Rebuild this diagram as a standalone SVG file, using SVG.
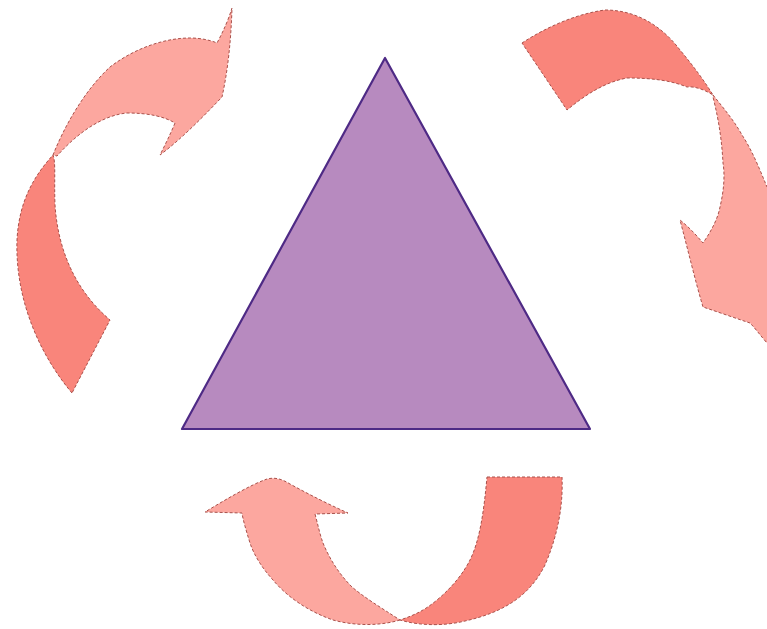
<svg xmlns="http://www.w3.org/2000/svg" width="767" height="629" viewBox="0 0 767 629">
<style>
.dark{fill:#f9857b;stroke:#a9504a;stroke-width:1;stroke-dasharray:3 2}
.light{fill:#fca79f;stroke:#a9504a;stroke-width:1;stroke-dasharray:3 2}
.tri{fill:#b78abf;stroke:#4e2a85;stroke-width:2.2;stroke-linejoin:round}
</style>
<rect width="767" height="629" fill="#ffffff"/>
<g id="triangle">
<polygon class="tri" points="385,58 182,429 590,429"/>
</g>
<g id="connectors">
<g id="arrow-left">
<path class="dark" d="M72,393 C40,355 15,300 17,240 C19,200 35,175 53,155 C56,162 54,180 55,205 C58,250 75,290 110,320 Z"/>
<path class="light" d="M53,155 C65,125 85,90 110,67 C135,48 165,38 190,38 C200,38 210,40 217,43 C224,30 229,18 232,8 C231,40 228,70 222,97 C200,120 180,140 160,155 C165,145 170,135 175,123 C165,117 150,113 127,113 C105,115 80,130 57,156 Z"/>
</g>
<g id="arrow-right">
<path class="dark" d="M522,43 C545,28 575,14 605,10 C640,10 665,30 680,50 C695,68 705,82 713,95 C705,90 695,86 687,87 C670,80 650,78 627,78 C605,82 585,95 567,110 Z"/>
<path class="light" d="M713,95 C725,110 735,122 742,135 C752,150 760,170 767,187 L780,200 L780,345 L767,343 C760,335 755,328 750,323 C735,318 718,312 703,307 C695,280 688,250 680,220 C690,228 697,236 703,243 C712,230 718,218 720,207 C724,190 725,175 723,163 C722,145 720,125 713,97 Z"/>
</g>
<g id="arrow-bottom">
<path class="dark" d="M487,477 L562,477 C563,500 560,530 545,565 C530,595 505,612 465,621 C445,626 420,626 400,620 C415,615 425,610 437,600 C455,585 465,570 470,560 C480,540 484,510 487,477 Z"/>
<path class="light" d="M400,620 C380,626 355,626 333,620 C310,612 288,598 273,580 C262,568 254,555 250,543 C246,530 243,520 242,513 L205,512 C225,500 250,485 267,479 C275,477 282,479 290,484 C310,495 330,505 348,513 L315,514 C318,525 320,535 323,543 C330,560 340,575 352,587 C365,598 380,607 400,620 Z"/>
</g>
</g>
</svg>
